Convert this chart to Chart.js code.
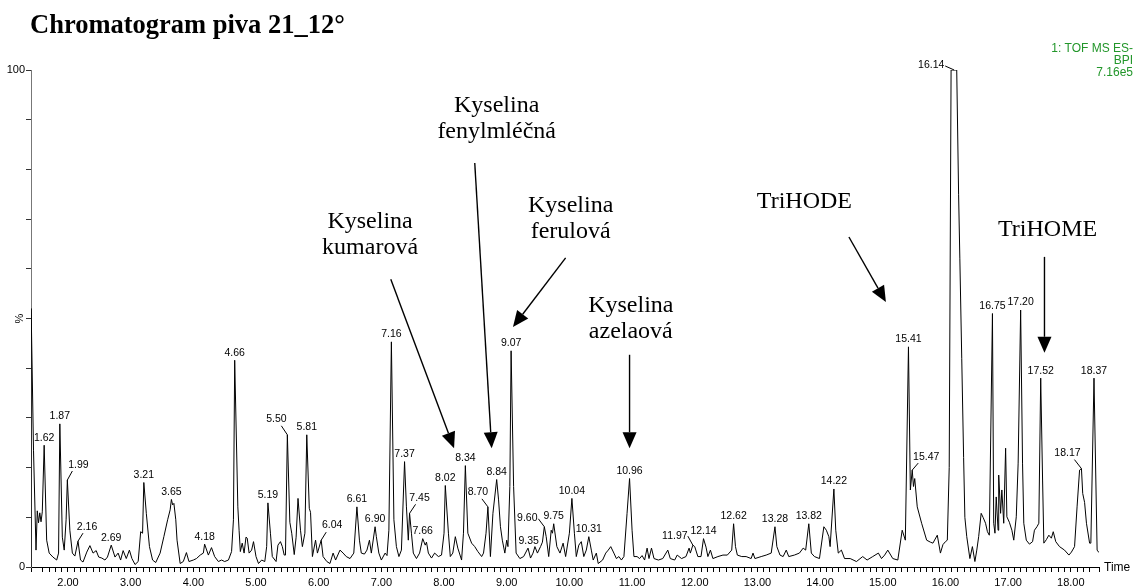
<!DOCTYPE html>
<html>
<head>
<meta charset="utf-8">
<script src="https://cdn.jsdelivr.net/npm/chart.js@4.4.1/dist/chart.umd.min.js"></script>
<style>
  html, body { margin: 0; padding: 0; background: #fff; overflow: hidden; }
  canvas { display: block; }
</style>
</head>
<body>
<canvas id="chrom" width="1135" height="600"></canvas>
<script>
const title = 'Chromatogram piva 21_12°'
const detector = ['1: TOF MS ES-', 'BPI', '7.16e5']
const xLabel = 'Time'
const yLabel = '%'

// retention time (min) and relative intensity (%)
const retention = [
  1.41,1.412,1.45,1.49,1.51,1.53,1.55,1.57,1.59,1.62,1.66,1.70,1.76,1.82,1.85,1.87,1.91,1.94,1.97,1.99,2.03,2.07,2.11,2.16,2.20,2.24,
  2.30,2.35,2.40,2.45,2.49,2.54,2.59,2.63,2.69,2.75,2.80,2.84,2.88,2.93,2.98,3.02,3.07,3.12,3.16,3.19,3.21,3.25,3.30,
  3.35,3.40,3.47,3.53,3.59,3.63,3.65,3.67,3.69,3.72,3.74,3.79,3.84,3.89,3.93,4.00,4.05,4.11,4.16,4.18,4.24,4.29,4.34,4.40,4.45,4.50,4.56,4.61,
  4.64,4.66,4.71,4.73,4.75,4.78,4.81,4.84,4.86,4.89,4.93,4.96,5.00,5.04,5.09,5.14,5.17,5.19,5.23,5.26,5.32,5.35,5.39,5.42,5.45,5.47,
  5.50,5.54,5.57,5.61,5.64,5.67,5.71,5.74,5.78,5.81,5.85,5.87,5.90,5.95,5.98,6.04,6.07,6.13,6.18,6.23,6.27,6.34,6.39,6.44,6.50,
  6.56,6.61,6.65,6.68,6.73,6.77,6.81,6.84,6.90,6.92,6.96,7.00,7.06,7.09,7.12,7.16,7.20,7.24,7.28,7.32,7.37,7.40,7.43,7.45,7.48,7.51,
  7.56,7.61,7.66,7.70,7.72,7.75,7.80,7.85,7.91,7.96,8.00,8.02,8.07,8.10,8.14,8.18,8.22,8.28,8.31,8.34,8.38,8.44,8.49,
  8.54,8.60,8.63,8.67,8.70,8.74,8.78,8.84,8.87,8.90,8.93,8.97,9.00,9.02,9.05,9.07,9.11,9.15,9.21,9.27,9.34,9.38,9.42,9.45,9.49,
  9.54,9.57,9.60,9.63,9.67,9.71,9.73,9.75,9.80,9.85,9.90,9.94,10.00,10.04,10.08,10.11,10.15,10.19,10.23,10.27,10.31,10.35,10.38,10.43,10.46,
  10.53,10.58,10.62,10.66,10.71,10.75,10.79,10.83,10.87,10.92,10.96,11.00,11.03,11.08,11.12,11.16,11.20,11.24,11.27,11.31,11.35,11.42,11.49,
  11.57,11.61,11.68,11.72,11.79,11.86,11.91,11.93,11.97,12.00,12.05,12.10,12.14,12.18,12.21,12.25,12.29,12.37,12.45,12.52,12.59,
  12.62,12.65,12.68,12.75,12.82,12.90,12.93,12.96,13.06,13.14,13.22,13.28,13.31,13.36,13.41,13.46,13.50,13.59,13.67,13.73,13.77,13.82,13.86,13.91,13.99,
  14.06,14.10,14.14,14.16,14.22,14.25,14.29,14.34,14.39,14.48,14.58,14.68,14.75,14.84,14.93,14.98,15.03,15.08,15.16,15.24,15.31,15.36,
  15.41,15.44,15.47,15.49,15.51,15.55,15.62,15.70,15.76,15.80,15.87,15.92,15.96,16.00,16.03,16.06,16.09,16.18,16.21,16.23,16.26,16.29,16.31,16.34,16.39,
  16.43,16.47,16.50,16.53,16.57,16.60,16.64,16.67,16.70,16.75,16.77,16.79,16.81,16.84,16.85,16.88,16.90,16.93,16.96,16.98,17.02,17.06,17.09,17.13,17.16,17.20,17.23,17.25,17.29,
  17.34,17.39,17.42,17.46,17.49,17.52,17.55,17.57,17.61,17.65,17.69,17.72,17.76,17.82,17.90,17.97,18.01,18.06,18.10,18.14,18.17,18.19,18.22,18.25,18.30,18.32,18.37,18.42,18.45
]
const intensity = [
  0,52,23.5,3.4,11.3,8.9,10.9,9.1,11.1,24.5,5.4,2.8,2.0,1.4,2.8,28.8,6.0,3.4,9.5,17.5,7.4,2.8,2.2,5.2,1.4,1.0,
  3.0,4.3,2.8,3.3,2.0,1.8,1.4,2.0,4.4,2.0,2.8,1.4,3.3,1.7,3.4,1.7,0.5,1.1,7.1,6.8,17.0,10.8,4.1,
  1.4,0.9,2.8,6.1,9.5,11.5,13.6,12.5,12.8,9.5,5.4,0.7,1.1,2.9,1.1,1.4,1.7,2.4,2.8,4.6,2.4,3.9,2.1,1.1,1.4,1.1,1.4,3.1,
  9.5,41.6,12.1,7.4,3.1,4.8,2.8,6.0,5.8,2.8,3.4,5.1,2.1,0.7,1.4,1.1,4.1,12.9,6.8,2.1,1.1,4.4,5.1,4.1,2.4,2.4,
  26.6,9.0,6.8,2.5,6.0,13.8,7.4,4.1,6.8,26.6,11.8,11.0,2.1,5.4,2.8,5.4,2.1,1.1,0.7,2.8,1.4,3.4,2.8,2.1,1.7,
  2.8,12.1,5.4,2.8,2.6,3.4,5.4,2.8,8.1,6.1,2.8,1.4,2.8,2.3,7.4,45.3,9.5,4.1,2.1,3.4,21.2,12.1,5.4,10.8,6.8,2.8,
  1.7,2.8,5.7,4.4,5.0,2.8,1.8,2.8,2.1,2.4,6.8,16.4,6.8,2.1,2.8,6.1,3.8,1.4,6.8,20.4,6.8,4.8,4.1,
  3.1,2.1,2.8,6.8,12.1,2.1,10.8,17.6,13.5,8.1,5.4,2.8,5.4,4.1,16.2,43.5,16.2,2.8,1.7,2.1,3.8,1.8,2.8,4.1,2.8,
  4.1,5.0,8.1,6.1,2.1,7.4,6.8,8.7,4.1,2.8,4.8,2.1,6.8,13.8,6.8,2.1,4.4,5.1,2.1,3.4,6.1,3.4,1.4,2.8,0.7,
  1.4,2.8,3.4,4.1,2.8,1.7,2.1,1.4,2.1,10.8,17.8,7.4,2.1,2.1,1.7,2.3,1.4,3.8,1.7,3.8,1.7,1.4,1.7,
  3.4,1.7,1.4,2.4,1.7,2.1,3.8,2.8,4.4,4.1,2.1,2.1,5.7,4.0,2.1,3.4,1.7,2.1,2.4,2.4,3.4,
  8.7,4.1,2.4,2.1,2.1,1.7,2.8,1.7,2.1,2.4,2.8,8.1,4.1,2.4,2.1,3.4,2.1,2.4,2.8,3.8,3.4,8.7,2.8,2.1,1.7,
  8.1,7.4,6.1,4.1,15.7,7.4,2.8,3.4,1.7,1.7,1.1,2.1,1.4,2.1,2.8,1.7,2.4,3.4,1.7,1.4,7.4,5.4,
  44.3,15.5,19.5,16.2,17.8,12.1,8.8,5.4,5.0,4.8,6.4,2.8,4.5,5.1,5.4,20,100,100,75,62,42,22,10,6.1,1.7,
  4.1,1.1,3.4,6.1,10.8,10.0,8.8,7.1,6.4,51,8.8,6.8,14.1,7.4,18.5,10.8,15.5,8.8,23.9,10.1,9.0,7.4,5.4,10.1,20.9,51.7,20.9,8.8,5.4,
  4.6,5.1,7.4,8.1,8.8,38,17.5,4.8,5.5,6.4,5.8,7.1,5.1,4.1,3.4,2.4,3.0,4.1,12.1,19.5,19.8,14.8,13.0,8.8,4.8,4.8,38,3.4,2.9
]

// labelled peaks: apex time and height
const peakTimes = [1.62,1.87,1.99,2.16,2.69,3.21,3.65,4.18,4.66,5.19,5.50,5.81,6.04,6.61,6.90,7.16,7.37,7.45,7.66,8.02,8.34,8.70,8.84,9.07,9.35,9.60,9.75,10.04,10.31,10.96,11.97,12.14,12.62,13.28,13.82,14.22,15.41,15.47,16.14,16.75,17.20,17.52,18.17,18.37]
const peakHeights = [24.5,28.8,17.5,5.2,4.4,17.0,13.6,4.6,41.6,12.9,26.6,26.6,5.4,12.1,8.1,45.3,21.2,10.8,5.7,16.4,20.4,12.1,17.6,43.5,3.8,8.1,8.7,13.8,6.1,17.8,4.4,5.7,8.7,8.1,8.7,15.7,44.3,19.5,100,51,51.7,38,19.8,38]

const compounds = [
  ['Kyselina', 'kumarová'],
  ['Kyselina', 'fenylmléčná'],
  ['Kyselina', 'ferulová'],
  ['Kyselina', 'azelaová'],
  ['TriHODE'],
  ['TriHOME']
]

const sans = '"Liberation Sans", Arial, sans-serif'
const serif = '"Liberation Serif", "Times New Roman", serif'

// peak labels moved off the apex get a little leader: [dx, dy, leaderDx, leaderDy] in px
const labelShift = {
  '1.99': [11, -15, 5, -9],
  '2.16': [9, -14, 5, -8],
  '5.50': [-11, -16, -6, -9],
  '6.04': [11, -15, 5, -8],
  '7.45': [10, -15, 6, -9],
  '8.70': [-10, -15, -6, -8],
  '9.60': [-17, -9, -6, -8],
  '11.97': [-18, -9, -5, -9],
  '15.47': [14, -13, 6, -7],
  '16.14': [-23, -5, -9, -4],
  '18.17': [-14, -15, -7, -9]
}

// compound notes in data units: text centre (first line), arrow start, arrow tip
const notePlace = [
  { at: [6.82, 69.4], from: [7.15, 57.9], to: [8.16, 23.9] },
  { at: [8.84, 92.8], from: [8.49, 81.3], to: [8.76, 23.9] },
  { at: [10.02, 72.6], from: [9.94, 62.2], to: [9.10, 48.3] },
  { at: [10.98, 52.5], from: [10.96, 42.7], to: [10.96, 23.9] },
  { at: [13.75, 73.4], from: [14.46, 66.4], to: [15.05, 53.3] },
  { at: [17.63, 67.8], from: [17.58, 62.4], to: [17.58, 43.1] }
]

function arrow(ctx, x1, y1, x2, y2) {
  const a = Math.atan2(y2 - y1, x2 - x1), len = 16, half = 7
  const bx = x2 - len * Math.cos(a), by = y2 - len * Math.sin(a)
  ctx.beginPath()
  ctx.moveTo(x1, y1)
  ctx.lineTo(bx, by)
  ctx.stroke()
  ctx.beginPath()
  ctx.moveTo(x2, y2)
  ctx.lineTo(bx + half * Math.sin(a), by - half * Math.cos(a))
  ctx.lineTo(bx - half * Math.sin(a), by + half * Math.cos(a))
  ctx.closePath()
  ctx.fill()
}

const decorations = {
  id: 'decorations',
  afterDraw(chart) {
    const ctx = chart.ctx
    const x = chart.scales.x, y = chart.scales.y
    ctx.save()

    ctx.fillStyle = '#000'
    ctx.textAlign = 'left'
    ctx.textBaseline = 'alphabetic'
    ctx.font = 'bold 26.5px ' + serif
    ctx.fillText(title, 30, 33)

    ctx.fillStyle = '#22962a'
    ctx.font = '12px ' + sans
    ctx.textAlign = 'right'
    ctx.textBaseline = 'middle'
    detector.forEach((line, i) => ctx.fillText(line, 1133, 48.5 + i * 12))

    ctx.fillStyle = '#000'
    ctx.textAlign = 'left'
    ctx.fillText(xLabel, x.right + 5, y.bottom + 1)

    // peak labels
    ctx.font = '10.5px ' + sans
    ctx.textAlign = 'center'
    ctx.strokeStyle = '#000'
    ctx.lineWidth = 1
    peakTimes.forEach((t, i) => {
      const key = t.toFixed(2)
      const px = x.getPixelForValue(t), py = y.getPixelForValue(peakHeights[i])
      let lx = px, ly = py - 7.5
      const s = labelShift[key]
      if (s) {
        lx = px + s[0]
        ly = py + s[1]
        ctx.beginPath()
        ctx.moveTo(px, py)
        ctx.lineTo(px + s[2], py + s[3])
        ctx.stroke()
      }
      ctx.fillText(key, lx, ly)
    })

    // compound notes with arrows
    ctx.font = '24px ' + serif
    ctx.lineWidth = 1.4
    compounds.forEach((lines, i) => {
      const p = notePlace[i]
      const tx = x.getPixelForValue(p.at[0]), ty = y.getPixelForValue(p.at[1])
      lines.forEach((txt, k) => ctx.fillText(txt, tx, ty + k * 26))
      arrow(ctx,
        x.getPixelForValue(p.from[0]), y.getPixelForValue(p.from[1]),
        x.getPixelForValue(p.to[0]), y.getPixelForValue(p.to[1]))
    })
    ctx.restore()
  }
}

Chart.defaults.font.family = sans
Chart.defaults.color = '#000'

new Chart(document.getElementById('chrom'), {
  type: 'line',
  data: {
    datasets: [{
      data: retention.map((t, i) => ({ x: t, y: intensity[i] })),
      borderColor: '#000',
      borderWidth: 1,
      pointRadius: 0,
      tension: 0,
      fill: false
    }]
  },
  options: {
    responsive: false,
    animation: false,
    devicePixelRatio: 1,
    events: [],
    layout: { padding: { top: 70, right: 36, bottom: 0, left: 0 } },
    plugins: { legend: { display: false }, tooltip: { enabled: false } },
    scales: {
      x: {
        type: 'linear',
        min: 1.41,
        max: 18.45,
        afterFit: s => { s.height = 33 },
        border: { color: '#000', width: 1 },
        grid: { drawOnChartArea: false, tickLength: 5, color: '#000' },
        ticks: {
          stepSize: 0.1,
          autoSkip: false,
          maxRotation: 0,
          minRotation: 0,
          padding: 4,
          font: { size: 11 },
          callback: v => Math.abs(v - Math.round(v)) < 1e-6 ? v.toFixed(2) : ''
        }
      },
      y: {
        min: 0,
        max: 100,
        afterFit: s => { s.width = 31 },
        border: { color: '#777', width: 1 },
        grid: { drawOnChartArea: false, tickLength: 5, color: '#333' },
        title: { display: true, text: yLabel, font: { size: 11 }, padding: { top: 13, bottom: 0 } },
        ticks: {
          stepSize: 10,
          padding: 1,
          font: { size: 11 },
          callback: v => (v === 0 || v === 100) ? String(v) : ''
        }
      }
    }
  },
  plugins: [decorations]
})
</script>
</body>
</html>
